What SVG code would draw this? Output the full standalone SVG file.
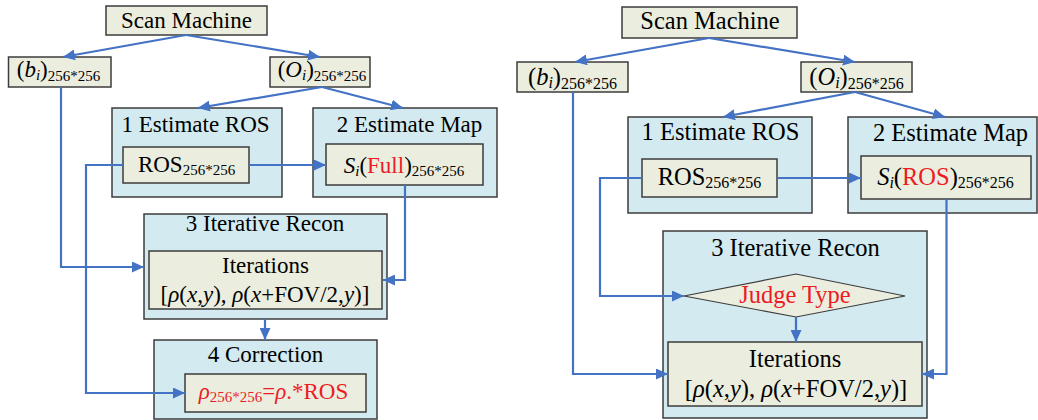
<svg xmlns="http://www.w3.org/2000/svg" width="1038" height="420" viewBox="0 0 1038 420">
<style>
.bg{fill:#ffffff}
.g{fill:#ebeedf;stroke:#3c3c3c;stroke-width:1.5}
.b{fill:#d2eaf0;stroke:#3c3c3c;stroke-width:1.5}
.c{fill:none;stroke:#4472c4;stroke-width:2.2}
.a{marker-end:url(#ah)}
text{font-family:'Liberation Serif','DejaVu Serif',serif;fill:#000;text-anchor:middle}
.L{font-size:23px}
.R{font-size:24.5px}
.s{font-size:15px}
.sr{font-size:16px}
.it{font-style:italic}
.red{fill:#ed1c24}
</style>
<defs>
<marker id="ah" markerUnits="userSpaceOnUse" markerWidth="13" markerHeight="11" refX="12" refY="5.5" orient="auto">
<path d="M0,0 L12,5.5 L0,11 z" fill="#4472c4"/>
</marker>
</defs>
<rect class="bg" x="0" y="0" width="1038" height="420"/>
<g font-family="Liberation Serif, DejaVu Serif, serif">
<!-- LEFT DIAGRAM -->
<g id="L-scan"><rect class="g" x="106" y="6" width="161" height="29"/><text class="L" x="186.5" y="28">Scan Machine</text></g>
<g id="L-b"><rect class="g" x="8.5" y="57" width="102.5" height="30"/><text class="L" x="58.5" y="77">(<tspan class="it">b</tspan><tspan class="s it" dy="3">i</tspan><tspan dy="-3">)</tspan><tspan class="s" dy="4">256*256</tspan></text></g>
<g id="L-o"><rect class="g" x="270" y="57" width="100" height="30"/><text class="L" x="322" y="77">(<tspan class="it">O</tspan><tspan class="s it" dy="3">i</tspan><tspan dy="-3">)</tspan><tspan class="s" dy="4">256*256</tspan></text></g>
<g id="L-est-ros"><rect class="b" x="112" y="108" width="170" height="89"/><text class="L" x="195.5" y="132">1 Estimate ROS</text>
<rect class="g" x="123" y="147" width="126" height="36"/><text class="L" x="186.5" y="172">ROS<tspan class="s" dy="3">256*256</tspan></text></g>
<g id="L-est-map"><rect class="b" x="313" y="108" width="184" height="89"/><text class="L" x="409.5" y="132">2 Estimate Map</text>
<rect class="g" x="326" y="144" width="157" height="41"/><text class="L" x="404" y="173"><tspan class="it">S</tspan><tspan class="s it" dy="3">i</tspan><tspan dy="-3">(</tspan><tspan class="red">Full</tspan>)<tspan class="s" dy="3">256*256</tspan></text></g>
<g id="L-recon"><rect class="b" x="144" y="214" width="243" height="105"/><text class="L" x="265" y="231">3 Iterative Recon</text>
<rect class="g" x="149" y="251" width="233" height="58"/><text class="L" x="265.5" y="273">Iterations</text>
<text class="L" x="265" y="302">[<tspan class="it">ρ</tspan>(<tspan class="it">x</tspan>,<tspan class="it">y</tspan>), <tspan class="it">ρ</tspan>(<tspan class="it">x</tspan>+FOV/2,<tspan class="it">y</tspan>)]</text></g>
<g id="L-corr"><rect class="b" x="154" y="340" width="223" height="79"/><text class="L" x="265.5" y="362">4 Correction</text>
<rect class="g" x="185" y="374" width="181" height="38"/><text class="L red" x="273.5" y="399"><tspan class="it">ρ</tspan><tspan class="s" dy="3">256*256</tspan><tspan dy="-3">=</tspan><tspan class="it">ρ</tspan>.*ROS</text></g>

<!-- RIGHT DIAGRAM -->
<g id="R-scan"><rect class="g" x="622" y="7" width="175" height="31"/><text class="R" x="710" y="29">Scan Machine</text></g>
<g id="R-b"><rect class="g" x="517" y="62" width="111" height="30"/><text class="R" x="572.5" y="85">(<tspan class="it">b</tspan><tspan class="sr it" dy="3">i</tspan><tspan dy="-3">)</tspan><tspan class="sr" dy="4">256*256</tspan></text></g>
<g id="R-o"><rect class="g" x="801" y="62" width="111" height="30"/><text class="R" x="856.5" y="85">(<tspan class="it">O</tspan><tspan class="sr it" dy="3">i</tspan><tspan dy="-3">)</tspan><tspan class="sr" dy="4">256*256</tspan></text></g>
<g id="R-est-ros"><rect class="b" x="628" y="117" width="184" height="96"/><text class="R" x="720.5" y="140">1 Estimate ROS</text>
<rect class="g" x="642" y="159" width="135" height="38"/><text class="R" x="709.5" y="185">ROS<tspan class="sr" dy="3">256*256</tspan></text></g>
<g id="R-est-map"><rect class="b" x="848" y="117" width="189" height="96"/><text class="R" x="950.5" y="141">2 Estimate Map</text>
<rect class="g" x="861" y="156" width="170" height="43"/><text class="R" x="945.5" y="185"><tspan class="it">S</tspan><tspan class="sr it" dy="3">i</tspan><tspan dy="-3">(</tspan><tspan class="red">ROS</tspan>)<tspan class="sr" dy="3">256*256</tspan></text></g>
<g id="R-recon"><rect class="b" x="663" y="231" width="264" height="187"/><text class="R" x="795.5" y="256">3 Iterative Recon</text>
<polygon class="g" points="684,296 796,274 905,296 796,317" style="stroke-width:1.2"/><text class="R red" x="795" y="303">Judge Type</text>
<rect class="g" x="668" y="342" width="254" height="64"/><text class="R" x="795" y="367">Iterations</text>
<text class="R" x="796" y="397">[<tspan class="it">ρ</tspan>(<tspan class="it">x</tspan>,<tspan class="it">y</tspan>), <tspan class="it">ρ</tspan>(<tspan class="it">x</tspan>+FOV/2,<tspan class="it">y</tspan>)]</text></g>
</g>
<g id="connectors">
<!-- left -->
<line class="c a" x1="186" y1="35" x2="63" y2="57"/>
<line class="c a" x1="186" y1="35" x2="320" y2="57"/>
<line class="c a" x1="322" y1="87" x2="198" y2="108"/>
<line class="c a" x1="322" y1="87" x2="403" y2="108"/>
<line class="c a" x1="249" y1="165" x2="326" y2="165"/>
<polyline class="c a" points="61,87 61,267 144,267"/>
<polyline class="c a" points="405,185 405,280 383,280"/>
<line class="c a" x1="265" y1="319" x2="265" y2="340"/>
<polyline class="c a" points="123,165 86,165 86,393 185,393"/>
<!-- right -->
<line class="c a" x1="709" y1="38" x2="575" y2="62"/>
<line class="c a" x1="709" y1="38" x2="855" y2="62"/>
<line class="c a" x1="855" y1="92" x2="723" y2="117"/>
<line class="c a" x1="855" y1="92" x2="945" y2="117"/>
<line class="c a" x1="777" y1="178" x2="861" y2="178"/>
<polyline class="c a" points="573,92 573,374 668,374"/>
<polyline class="c a" points="642,178 600,178 600,296 684,296"/>
<line class="c a" x1="796" y1="317" x2="796" y2="342"/>
<polyline class="c a" points="946.5,199 946.5,374 922,374"/>
</g>
</svg>
